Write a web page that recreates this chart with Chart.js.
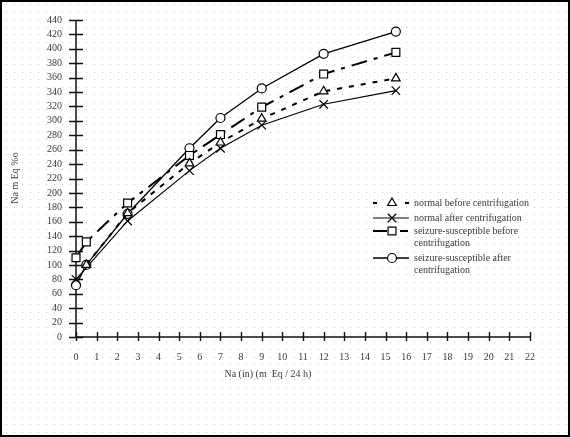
<!DOCTYPE html>
<html>
<head>
<meta charset="utf-8">
<script src="https://cdn.jsdelivr.net/npm/chart.js@4/dist/chart.umd.min.js"></script>
<style>
html,body{margin:0;padding:0;background:#fff;}
#wrap{position:relative;width:570px;height:437px;}
</style>
</head>
<body>
<div id="wrap"><canvas id="c" width="570" height="437"></canvas></div>
<script>
// ---- data ----
const xTicks = {min: 0, max: 22, step: 1};
const yTicks = {min: 0, max: 440, step: 20};

const normalBeforeX = [0.5, 2.5, 5.5, 7, 9, 12, 15.5];
const normalBeforeY = [100, 172, 241, 270, 303, 341, 359];

const normalAfterX = [0, 2.5, 5.5, 7, 9, 12, 15.5];
const normalAfterY = [80, 161, 231, 262, 294, 323, 342];

const seizureBeforeX = [0, 0.5, 2.5, 5.5, 7, 9, 12, 15.5];
const seizureBeforeY = [110, 132, 186, 252, 281, 319, 365, 395];

const seizureAfterX = [0, 0.5, 2.5, 5.5, 7, 9, 12, 15.5];
const seizureAfterY = [72, 100, 171, 262, 304, 345, 393, 424];

const seriesLabels = [
  ["normal before centrifugation"],
  ["normal after centrifugation"],
  ["seizure-susceptible before", "centrifugation"],
  ["seizure-susceptible after", "centrifugation"]
];
const xTitle = "Na (in) (m  Eq / 24 h)";
const yTitle = "Na m Eq %o";

function pts(xs, ys){ return xs.map((x,i)=>({x:x, y:ys[i]})); }

const FONT = "'Liberation Serif','Times New Roman',serif";
const TXT = "#3a3a3a";

const datasets = [
  {label: seriesLabels[0].join(' '), data: pts(normalBeforeX, normalBeforeY),
   borderColor:'#000', borderWidth:2, borderDash:[5,7], pointStyle:'triangle', pointRadius:5,
   pointBorderWidth:1.2, pointBackgroundColor:'#fff', pointBorderColor:'#000', showLine:true, clip:false},
  {label: seriesLabels[1].join(' '), data: pts(normalAfterX, normalAfterY),
   borderColor:'#000', borderWidth:1.1, borderDash:[], pointStyle:'crossRot', pointRadius:6,
   pointBorderWidth:1.2, pointBackgroundColor:'#fff', pointBorderColor:'#000', showLine:true, clip:false},
  {label: seriesLabels[2].join(' '), data: pts(seizureBeforeX, seizureBeforeY),
   borderColor:'#000', borderWidth:2, borderDash:[16,7,4,7], pointStyle:'rect', pointRadius:5.6,
   pointBorderWidth:1.2, pointBackgroundColor:'#fff', pointBorderColor:'#000', showLine:true, clip:false},
  {label: seriesLabels[3].join(' '), data: pts(seizureAfterX, seizureAfterY),
   borderColor:'#000', borderWidth:1.3, borderDash:[], pointStyle:'circle', pointRadius:4.5,
   pointBorderWidth:1.2, pointBackgroundColor:'#fff', pointBorderColor:'#000', showLine:true, clip:false}
];

const decor = {
  id: 'decor',
  beforeDraw(chart){
    const ctx = chart.ctx;
    ctx.save();
    ctx.fillStyle = '#fff';
    ctx.fillRect(0,0,chart.width,chart.height);
    ctx.fillStyle = '#c4c4c4';
    for (let y = 4; y < chart.height; y += 7.5){
      for (let x = 6; x < chart.width; x += 8){
        ctx.fillRect(Math.round(x), Math.round(y), 1, 1);
      }
    }
    ctx.restore();
  },
  beforeDatasetsDraw(chart){
    const ctx = chart.ctx, xs = chart.scales.x, ys = chart.scales.y;
    const x0 = xs.getPixelForValue(0), y0 = ys.getPixelForValue(0);
    ctx.save();
    ctx.strokeStyle = '#111';
    ctx.lineWidth = 1.5;
    ctx.beginPath();
    ctx.moveTo(x0, y0); ctx.lineTo(x0, ys.getPixelForValue(yTicks.max));
    ctx.moveTo(x0, y0); ctx.lineTo(xs.getPixelForValue(xTicks.max), y0);
    ctx.stroke();
    ctx.lineWidth = 1.4;
    ctx.beginPath();
    for (let v = yTicks.min; v <= yTicks.max; v += yTicks.step){
      const p = Math.round(ys.getPixelForValue(v)) + 0.5;
      ctx.moveTo(x0 - 7, p); ctx.lineTo(x0 + 7, p);
    }
    for (let v = xTicks.min; v <= xTicks.max; v += xTicks.step){
      const p = Math.round(xs.getPixelForValue(v)) + 0.5;
      ctx.moveTo(p, y0 - 5); ctx.lineTo(p, y0 + 4);
    }
    ctx.stroke();
    // axis titles
    ctx.fillStyle = TXT;
    ctx.font = "10px " + FONT;
    ctx.textAlign = 'center'; ctx.textBaseline = 'middle';
    ctx.fillText(xTitle, (xs.getPixelForValue(9)+xs.getPixelForValue(9.6))/2, 374);
    ctx.save();
    ctx.translate(15, 178);
    ctx.rotate(-Math.PI/2);
    ctx.fillText(yTitle, 0, 0);
    ctx.restore();
    ctx.restore();
  },
  afterDraw(chart){
    const ctx = chart.ctx;
    ctx.save();
    // legend
    const rows = [203, 218, 231, 258];
    const lx1 = 373, lx2 = 409, mx = 392, tx = 414;
    chart.data.datasets.forEach((ds, i) => {
      const y = rows[i];
      ctx.strokeStyle = '#000';
      ctx.lineWidth = ds.borderWidth;
      ctx.setLineDash([]);
      ctx.beginPath();
      if (i === 0){
        ctx.moveTo(lx1, y); ctx.lineTo(lx1+4, y);
        ctx.moveTo(lx2-4, y); ctx.lineTo(lx2, y);
      } else if (i === 2){
        ctx.moveTo(lx1, y); ctx.lineTo(mx-5, y);
        ctx.moveTo(mx+8, y); ctx.lineTo(lx2-1, y);
      } else {
        ctx.moveTo(lx1, y); ctx.lineTo(lx2, y);
      }
      ctx.stroke();
      ctx.lineWidth = 1.2;
      ctx.fillStyle = '#fff';
      ctx.strokeStyle = '#000';
      ctx.beginPath();
      const st = ds.pointStyle, r = ds.pointRadius;
      if (st === 'circle'){ ctx.arc(mx, y, r, 0, Math.PI*2); ctx.fill(); ctx.stroke(); }
      else if (st === 'rect'){ const s = Math.SQRT1_2*r; ctx.rect(mx-s, y-s, 2*s, 2*s); ctx.fill(); ctx.stroke(); }
      else if (st === 'triangle'){
        ctx.moveTo(mx, y - r); ctx.lineTo(mx + r*0.866, y + r/2); ctx.lineTo(mx - r*0.866, y + r/2); ctx.closePath();
        ctx.fill(); ctx.stroke();
      } else {
        const s = Math.SQRT1_2*r;
        ctx.moveTo(mx-s, y-s); ctx.lineTo(mx+s, y+s); ctx.moveTo(mx+s, y-s); ctx.lineTo(mx-s, y+s); ctx.stroke();
      }
      ctx.fillStyle = TXT;
      ctx.font = "10px " + FONT;
      ctx.textAlign = 'left'; ctx.textBaseline = 'middle';
      seriesLabels[i].forEach((t, k) => ctx.fillText(t, tx, y + k*12));
    });
    // frame
    ctx.strokeStyle = '#000';
    ctx.lineWidth = 2;
    ctx.strokeRect(1, 1, chart.width - 2, chart.height - 2);
    ctx.restore();
  }
};

new Chart(document.getElementById('c'), {
  type: 'scatter',
  data: {datasets: datasets},
  options: {
    responsive: false,
    animation: false,
    devicePixelRatio: 1,
    layout: {padding: {left: 0, right: 40, top: 12, bottom: 0}},
    plugins: {legend: {display: false}, tooltip: {enabled: false}},
    scales: {
      x: {
        type: 'linear', min: xTicks.min, max: xTicks.max,
        grid: {display: false, drawTicks: false},
        border: {display: false},
        ticks: {stepSize: xTicks.step, padding: 14, color: TXT, font: {family: FONT, size: 10}, maxRotation: 0, autoSkip: false},
        afterFit(s){ s.height = 100; }
      },
      y: {
        type: 'linear', min: yTicks.min, max: yTicks.max,
        grid: {display: false, drawTicks: false},
        border: {display: false},
        ticks: {stepSize: yTicks.step, padding: 14, color: TXT, font: {family: FONT, size: 10}, autoSkip: false},
        afterFit(s){ s.width = 76; }
      }
    }
  },
  plugins: [decor]
});
</script>
</body>
</html>
